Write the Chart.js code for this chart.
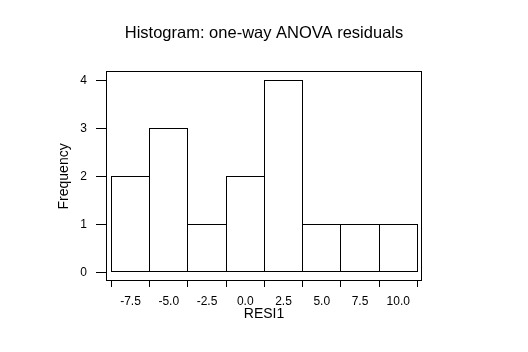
<!DOCTYPE html>
<html>
<head>
<meta charset="utf-8">
<script src="https://cdn.jsdelivr.net/npm/chart.js@4/dist/chart.umd.min.js"></script>
<style>
  html, body { margin: 0; padding: 0; background: #fff; }
  #wrap { width: 528px; height: 352px; }
</style>
</head>
<body>
<div id="wrap"><canvas id="hist" width="528" height="352"></canvas></div>
<script>
/* Data */
const binCenters = [-7.5, -5.0, -2.5, 0.0, 2.5, 5.0, 7.5, 10.0];
const counts = [2, 3, 1, 2, 4, 1, 1, 1];
const xTicks = [-7.5, -5.0, -2.5, 0.0, 2.5, 5.0, 7.5, 10.0];
const yTicks = [0, 1, 2, 3, 4];

const FONT = "'Liberation Sans', Arial, sans-serif";
const crisp = (v) => Math.floor(v) + 0.5;

/* Frame around the plot area + 1px outlines of the bars (shared edges) */
const outlines = {
  id: "outlines",
  afterDatasetsDraw(chart) {
    const { ctx, chartArea: a } = chart;
    ctx.save();
    ctx.strokeStyle = "#000";
    ctx.lineWidth = 1;
    chart.getDatasetMeta(0).data.forEach((bar) => {
      const p = bar.getProps(["x", "y", "base", "width"], true);
      const l = crisp(p.x - p.width / 2);
      const r = crisp(p.x + p.width / 2);
      const t = crisp(p.y);
      const b = crisp(p.base);
      ctx.strokeRect(l, t, r - l, b - t);
    });
    ctx.strokeRect(crisp(a.left), crisp(a.top),
      crisp(a.right - 1) - crisp(a.left), crisp(a.bottom - 1) - crisp(a.top));
    ctx.restore();
  },
};

new Chart(document.getElementById("hist").getContext("2d"), {
  type: "bar",
  data: {
    datasets: [
      {
        data: binCenters.map((x, i) => ({ x: x, y: counts[i] })),
        backgroundColor: "#fff",
        borderWidth: 0,
        barPercentage: 1,
        categoryPercentage: 1,
        inflateAmount: 0,
      },
    ],
  },
  options: {
    responsive: false,
    animation: false,
    devicePixelRatio: 1,
    layout: { padding: 0 },
    plugins: {
      legend: { display: false },
      tooltip: { enabled: false },
      title: {
        display: true,
        text: "Histogram: one-way ANOVA residuals",
        color: "#000",
        font: { family: FONT, size: 16.5, weight: "normal" },
        padding: { top: 24, bottom: 28 },
      },
    },
    scales: {
      x: {
        type: "linear",
        offset: false,
        min: -9.1,
        max: 11.55,
        afterBuildTicks: (s) => { s.ticks = xTicks.map((v) => ({ value: v })); },
        afterFit: (s) => { s.height = 71; },
        border: { display: false },
        grid: { drawOnChartArea: false, drawTicks: true, tickLength: 6, color: "#000" },
        ticks: {
          color: "#000",
          padding: 7,
          maxRotation: 0,
          font: { family: FONT, size: 12 },
          callback: (v) => Number(v).toFixed(1),
        },
        title: {
          display: true,
          text: "RESI1",
          color: "#000",
          font: { family: FONT, size: 14 },
          padding: { top: 0, bottom: 29 },
        },
      },
      y: {
        min: -0.18,
        max: 4.19,
        afterBuildTicks: (s) => { s.ticks = yTicks.map((v) => ({ value: v })); },
        afterFit: (s) => { s.width = 106; },
        border: { display: false },
        grid: { drawOnChartArea: false, drawTicks: true, tickLength: 10, color: "#000" },
        ticks: {
          color: "#000",
          padding: 9,
          font: { family: FONT, size: 12 },
        },
        title: {
          display: true,
          text: "Frequency",
          color: "#000",
          font: { family: FONT, size: 14 },
          padding: { top: 56, bottom: 0 },
        },
      },
      /* empty right-hand margin so the title centres on the page */
      yr: {
        axis: "y",
        type: "linear",
        position: "right",
        afterFit: (s) => { s.width = 106; },
        border: { display: false },
        grid: { display: false },
        ticks: { display: false },
      },
    },
  },
  plugins: [outlines],
});
</script>
</body>
</html>
